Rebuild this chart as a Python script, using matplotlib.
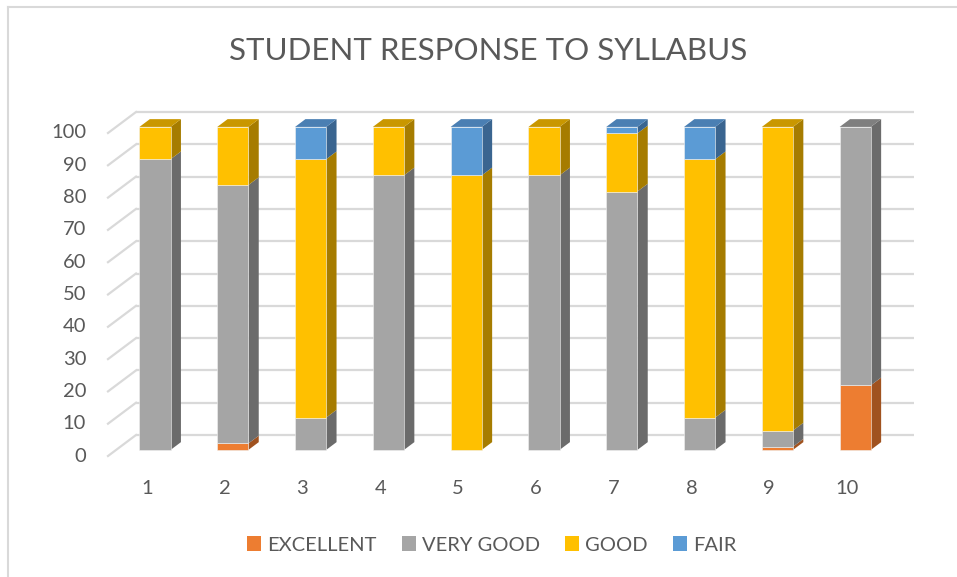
import matplotlib.pyplot as plt
from matplotlib.patches import Polygon, Patch
from matplotlib.lines import Line2D

plt.rcParams['font.family'] = ['Lato', 'DejaVu Sans']

# data (percent of students)
categories = [1, 2, 3, 4, 5, 6, 7, 8, 9, 10]
excellent = [0, 2, 0, 0, 0, 0, 0, 0, 1, 20]
very_good = [90, 80, 10, 85, 0, 85, 80, 10, 5, 80]
good = [10, 18, 80, 15, 85, 15, 18, 80, 94, 0]
fair = [0, 0, 10, 0, 15, 0, 2, 10, 0, 0]

series = [
    ('EXCELLENT', excellent, '#ED7D31', '#A0521F', '#BE6427'),
    ('VERY GOOD', very_good, '#A5A5A5', '#6B6B6B', '#7F7F7F'),
    ('GOOD', good, '#FFC000', '#A67C00', '#C99700'),
    ('FAIR', fair, '#5B9BD5', '#3A6590', '#4A7FB3'),
]

TEXT = '#595959'
GRID = '#D9D9D9'

# oblique "3D" projection: offset of one unit of depth, in data units
DX, DY = 0.36, 6.5
D0, D1 = 0.29, 0.66   # front / back of the bars
W = 0.40

fig = plt.figure(figsize=(9.57, 5.77), dpi=100)
ax = fig.add_axes([108 / 957, 121 / 577, 806 / 957, 344 / 577])
ax.set_xlim(0.5, 10.5 + DX)
ax.set_ylim(0, 100 + DY)
ax.axis('off')

# back wall and side wall gridlines
for v in range(0, 101, 10):
    ax.plot([0.5 + DX, 10.5 + DX], [v + DY, v + DY], color=GRID, lw=1.6,
            zorder=1, solid_capstyle='butt', clip_on=False)
    ax.plot([0.5, 0.5 + DX], [v, v + DY], color=GRID, lw=1.6,
            zorder=1, clip_on=False)
    ax.text(0.5 - 0.28, v, str(v), ha='right', va='center', fontsize=14.5,
            color=TEXT)

for c in categories:
    ax.text(c, -10, str(c), ha='center', va='center', fontsize=14.5,
            color=TEXT)

# stacked bars
ddx, ddy = (D1 - D0) * DX, (D1 - D0) * DY
for j, c in enumerate(categories):
    bottom = 0
    segs = []
    for name, vals, front, side, top in series:
        h = vals[j]
        if h > 0:
            segs.append((bottom, h, front, side, top))
        bottom += h
    xc = c + D0 * DX
    xl, xr = xc - W / 2, xc + W / 2
    for b, h, front, side, top in segs:
        yb, yt = b + D0 * DY, b + h + D0 * DY
        ax.bar(xc, h, bottom=yb, width=W, color=front, edgecolor='#F2F2F2',
               linewidth=0.4, zorder=3)
        ax.add_patch(Polygon([(xr, yb), (xr + ddx, yb + ddy),
                              (xr + ddx, yt + ddy), (xr, yt)],
                             closed=True, facecolor=side, edgecolor='none',
                             zorder=2))
    b, h, front, side, top = segs[-1]
    yt = b + h + D0 * DY
    ax.add_patch(Polygon([(xl, yt), (xr, yt), (xr + ddx, yt + ddy),
                          (xl + ddx, yt + ddy)], closed=True,
                         facecolor=top, edgecolor='none', zorder=2))

fig.text(488 / 957, 1 - 51 / 577, 'STUDENT RESPONSE TO SYLLABUS',
         ha='center', va='center', fontsize=22.5, color=TEXT)

handles = [Patch(facecolor=s[2], edgecolor='none') for s in series]
fig.legend(handles, [s[0] for s in series], loc='center',
           bbox_to_anchor=(492 / 957, 1 - 545 / 577), ncol=4, frameon=False,
           fontsize=14.5, labelcolor=TEXT, handlelength=0.7, handleheight=0.7,
           handletextpad=0.3, columnspacing=1.25)

# chart border (only top and left edges are inside the picture)
fig.add_artist(Line2D([8 / 957, 8 / 957], [0, 1 - 7 / 577],
                      transform=fig.transFigure, color='#D9D9D9', lw=1.5))
fig.add_artist(Line2D([8 / 957, 1], [1 - 7 / 577, 1 - 7 / 577],
                      transform=fig.transFigure, color='#D9D9D9', lw=1.5))

fig.savefig('out.png', dpi=100)
